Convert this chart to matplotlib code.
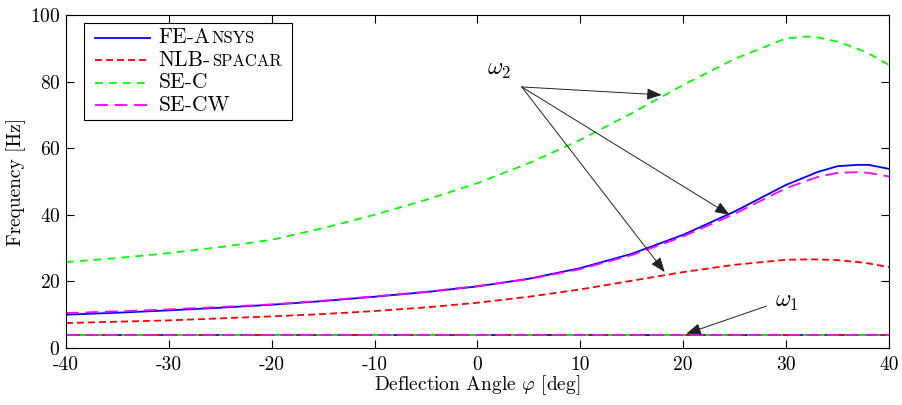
import numpy as np
import matplotlib
matplotlib.use("Agg")
import matplotlib.pyplot as plt
from matplotlib.lines import Line2D
from matplotlib.offsetbox import AnchoredOffsetbox, DrawingArea, TextArea, HPacker, VPacker

plt.rcParams['font.family'] = 'serif'
plt.rcParams['font.serif'] = ['cmr10', 'DejaVu Serif']
plt.rcParams['mathtext.fontset'] = 'cm'
plt.rcParams['axes.unicode_minus'] = False
plt.rcParams['axes.formatter.use_mathtext'] = True

# deflection angle samples [deg]
phi = [-40, -35, -30, -25, -20, -15, -10, -5, 0, 5, 10, 15, 20, 25, 30, 32, 33, 35, 37, 38, 40]

# second eigenfrequency omega_2 [Hz]
fe_ansys_w2 = [10.0, 10.6, 11.3, 12.1, 13.0, 14.1, 15.4, 16.8, 18.5, 20.8, 24.0, 28.3, 34.0, 41.0, 49.0, 51.5, 52.8, 54.6, 55.0, 55.0, 53.8]
nlb_spacar_w2 = [7.5, 7.9, 8.3, 8.9, 9.5, 10.2, 11.1, 12.2, 13.6, 15.4, 17.6, 20.2, 22.8, 25.0, 26.5, 26.6, 26.6, 26.4, 25.8, 25.4, 24.3]
se_c_w2 = [25.8, 27.0, 28.5, 30.3, 32.5, 36.0, 40.0, 44.5, 49.5, 55.5, 62.5, 70.5, 79.0, 86.8, 93.0, 93.5, 93.3, 92.0, 89.8, 88.5, 85.0]
se_cw_w2 = [10.5, 11.0, 11.6, 12.3, 13.1, 14.2, 15.5, 16.9, 18.6, 20.7, 23.7, 27.9, 33.5, 40.3, 48.0, 50.2, 51.3, 52.6, 52.8, 52.6, 51.5]

# first eigenfrequency omega_1 [Hz]
fe_ansys_w1 = [3.9] * len(phi)
nlb_spacar_w1 = [3.9] * len(phi)
se_c_w1 = [3.9] * len(phi)
se_cw_w1 = [4.0] * len(phi)

# legend names: regular part + small-caps part
names = ['FE-A', 'NLB-', 'SE-C', 'SE-CW']
tails = ['NSYS', 'SPACAR', '', '']

lw = 1.3
styles = [
    dict(color='#0000ff', lw=lw),
    dict(color='#ff0000', lw=lw, dashes=(3.9, 2.2)),
    dict(color='#00ff00', lw=lw, dashes=(4.4, 3.3)),
    dict(color='#ff00ff', lw=lw, dashes=(7.2, 3.6)),
]

fig = plt.figure(figsize=(9.03, 4.05), dpi=100)
ax = fig.add_axes([0.073, 0.1407, 0.9115, 0.8223])

for w2, w1, st in zip([fe_ansys_w2, nlb_spacar_w2, se_c_w2, se_cw_w2],
                      [fe_ansys_w1, nlb_spacar_w1, se_c_w1, se_cw_w1], styles):
    ax.plot(phi, w2, **st)
    ax.plot(phi, w1, **st)

ax.set_xlim(-40, 40)
ax.set_ylim(0, 100)
xt = [-40, -30, -20, -10, 0, 10, 20, 30, 40]
ax.set_xticks(xt)
ax.set_xticklabels([str(v) for v in xt])
ax.set_yticks([0, 20, 40, 60, 80, 100])
ax.tick_params(direction='in', top=True, right=True, labelsize=14, length=6, width=0.8, pad=4)
ax.tick_params(axis='x', pad=5.5)
ax.set_xlabel(r'Deflection Angle $\varphi$ [deg]', fontsize=14, labelpad=0)
ax.set_ylabel('Frequency [Hz]', fontsize=14, labelpad=3)

# annotations for the two eigenfrequencies
arrow = dict(arrowstyle='-|>,head_length=0.9,head_width=0.35', color='#222222', lw=0.7,
             shrinkA=0, shrinkB=0)
ax.text(0.9, 82.0, r'$\omega_2$', fontsize=17)
for target in [(17.9, 76.0), (24.5, 40.0), (18.2, 22.8)]:
    ax.annotate('', xy=target, xytext=(4.3, 78.4), arrowprops=arrow)
ax.text(28.9, 12.3, r'$\omega_1$', fontsize=17)
ax.annotate('', xy=(20.3, 4.3), xytext=(28.1, 12.6), arrowprops=arrow)

# legend built from offset boxes so the small caps sit on the baseline
rows = []
for name, tail, st in zip(names, tails, styles):
    da = DrawingArea(40, 8, 0, 0)
    da.add_artist(Line2D([0, 40], [4, 4], **st))
    parts = [TextArea(name, textprops=dict(fontsize=15.5))]
    if tail:
        parts.append(TextArea(tail, textprops=dict(fontsize=12)))
    label = HPacker(children=parts, align='baseline', pad=0, sep=0.8)
    entry = HPacker(children=[da, label], align='center', pad=0, sep=6)
    rows.append(HPacker(children=[DrawingArea(4.3, 1), entry, DrawingArea(3.6, 1)],
                        align='center', pad=0, sep=0))
box = VPacker(children=rows, align='left', pad=0, sep=2.1)
leg = AnchoredOffsetbox(loc='upper left', child=box, pad=0.23, borderpad=0, frameon=True,
                        prop=dict(size=15.5), bbox_to_anchor=(0.0219, 0.976),
                        bbox_transform=ax.transAxes)
leg.patch.set_edgecolor('black')
leg.patch.set_linewidth(0.8)
leg.set_zorder(5)
ax.add_artist(leg)

fig.savefig('out.png', dpi=100)
